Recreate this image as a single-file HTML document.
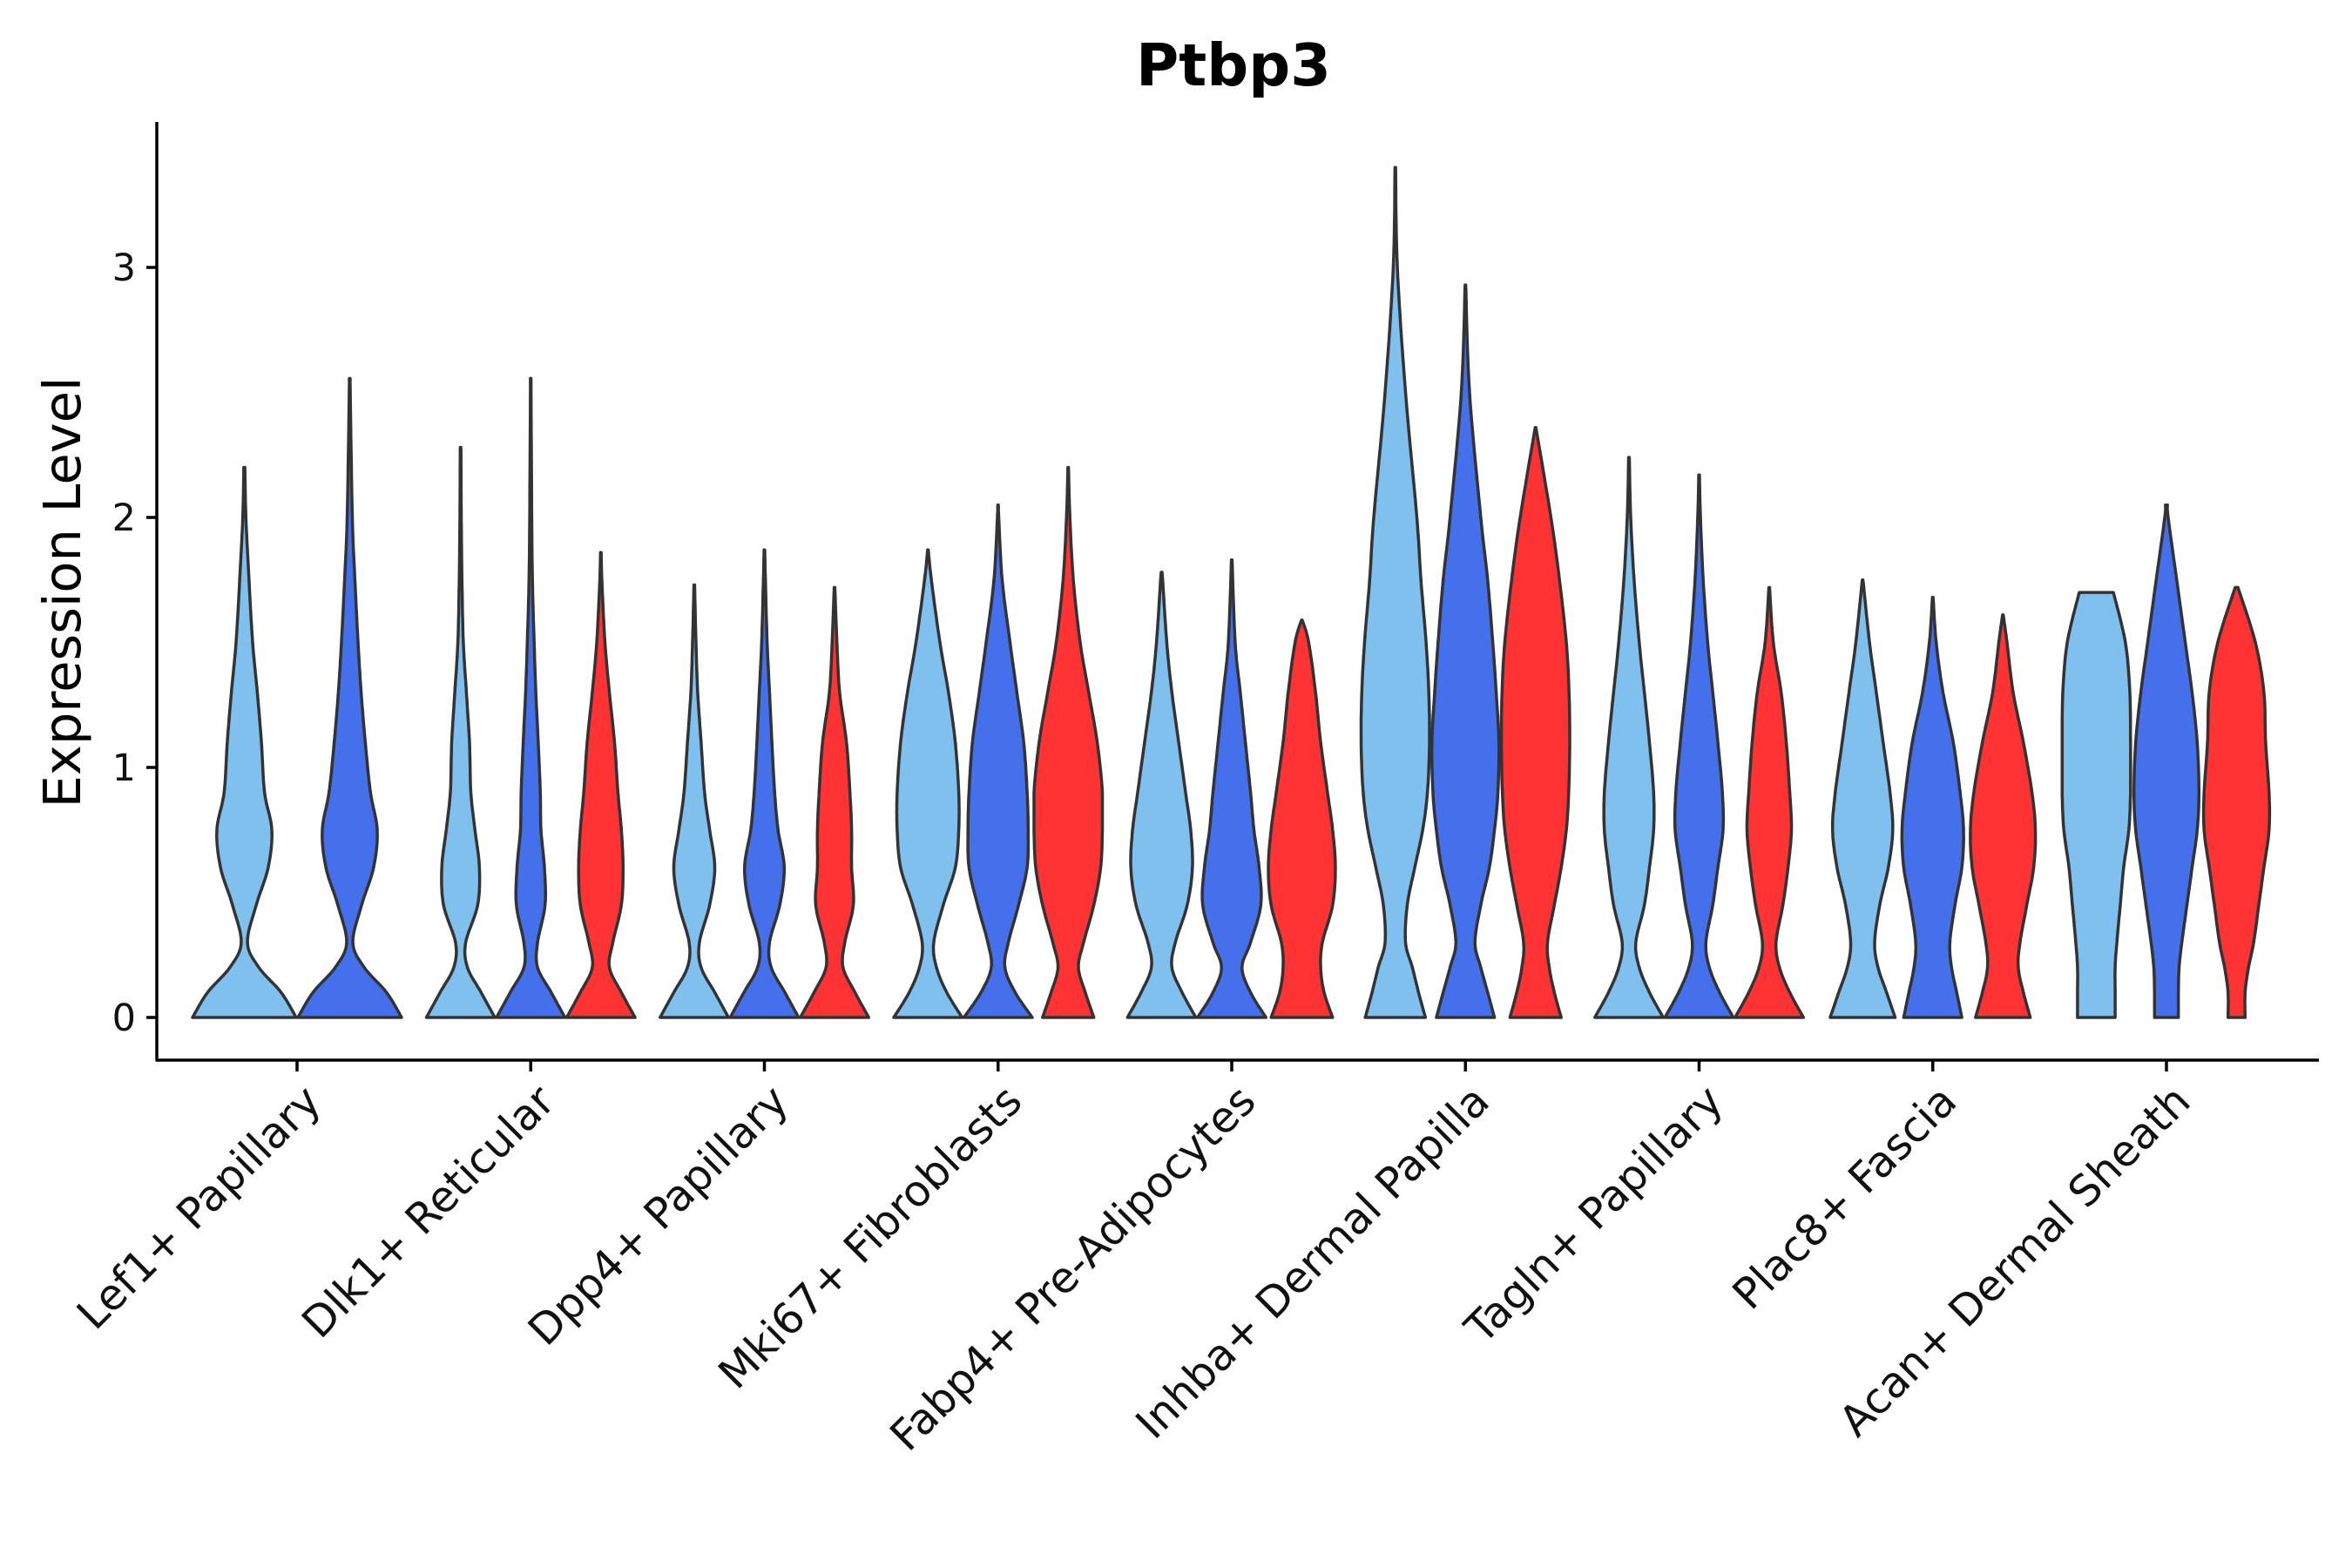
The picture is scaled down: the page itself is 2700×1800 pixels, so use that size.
<!DOCTYPE html>
<html><head><meta charset="utf-8">
<style>
html,body{margin:0;padding:0;background:#fff;}
svg{display:block;font-family:"DejaVu Sans","Liberation Sans",sans-serif;}
</style></head>
<body>
<svg id="chart" width="2700" height="1800" viewBox="0 0 2700 1800" xmlns="http://www.w3.org/2000/svg">
<rect width="2700" height="1800" fill="#fff"/>
<text x="1416" y="98" text-anchor="middle" font-size="67" font-weight="bold" fill="#000">Ptbp3</text>
<text transform="translate(92,680) rotate(-90)" text-anchor="middle" font-size="59" fill="#000">Expression Level</text>
<g id="plot"></g>
</svg>
<script>
const categories = ["Lef1+ Papillary","Dlk1+ Reticular","Dpp4+ Papillary","Mki67+ Fibroblasts","Fabp4+ Pre-Adipocytes","Inhba+ Dermal Papilla","Tagln+ Papillary","Plac8+ Fascia","Acan+ Dermal Sheath"];
const yTicks = [0,1,2,3];
const levels = [0,0.1,0.2,0.3,0.45,0.6,0.75,0.9,1.1,1.3,1.5,1.75,2.0,2.5,3.0];
const seriesColors = ["#7fc0ee","#4570ec","#ff3333"];
const violinGroup = [0,0, 1,1,1, 2,2,2, 3,3,3, 4,4,4, 5,5,5, 6,6,6, 7,7,7, 8,8,8];
const violinSeries = [0,1, 0,1,2, 0,1,2, 0,1,2, 0,1,2, 0,1,2, 0,1,2, 0,1,2, 0,1,2];
const violinMax = [2.2,2.55, 2.28,2.55,1.86, 1.73,1.87,1.72, 1.87,2.05,2.2, 1.78,1.83,1.59, 3.4,2.93,2.36, 2.24,2.17,1.72, 1.75,1.68,1.61, 1.7,2.05,1.72];
const violinTopW = [0.01,0.01, 0.01,0.01,0.01, 0.01,0.01,0.01, 0.01,0.01,0.01, 0.01,0.01,0.01, 0.01,0.01,0.01, 0.01,0.01,0.01, 0.01,0.01,0.01, 0.5,0.03,0.04];
const violinWidths = [
 [1,0.71,0.28,0.06,0.23,0.46,0.53,0.39,0.33,0.25,0.16,0.09,0.03],
 [1,0.71,0.28,0.06,0.23,0.46,0.53,0.4,0.3,0.22,0.16,0.1,0.05,0.01],
 [1,0.6,0.2,0.15,0.5,0.55,0.42,0.3,0.26,0.17,0.08,0.04,0.02],
 [1,0.6,0.2,0.2,0.42,0.4,0.3,0.28,0.22,0.15,0.1,0.05,0.03,0.01],
 [1,0.6,0.25,0.35,0.6,0.65,0.6,0.5,0.4,0.25,0.12,0.03],
 [1,0.6,0.2,0.15,0.45,0.6,0.45,0.3,0.2,0.1,0.05],
 [1,0.6,0.2,0.15,0.45,0.58,0.4,0.3,0.22,0.15,0.08,0.03],
 [1,0.6,0.25,0.3,0.55,0.5,0.5,0.45,0.35,0.15,0.07],
 [1,0.55,0.25,0.17,0.45,0.8,0.9,0.9,0.8,0.6,0.35,0.1],
 [1,0.5,0.2,0.3,0.6,0.85,0.88,0.85,0.75,0.55,0.35,0.12,0.02],
 [0.75,0.5,0.3,0.45,0.75,0.95,1,1,0.85,0.6,0.35,0.15,0.05],
 [1,0.6,0.3,0.4,0.75,0.9,0.85,0.7,0.5,0.3,0.15,0.03],
 [1,0.55,0.3,0.55,0.85,0.8,0.65,0.55,0.4,0.25,0.1],
 [0.9,0.65,0.55,0.6,0.9,0.98,0.9,0.75,0.55,0.4,0.2],
 [0.88,0.68,0.5,0.3,0.35,0.57,0.8,0.94,1,0.98,0.9,0.75,0.63,0.3,0.06],
 [0.85,0.65,0.45,0.28,0.45,0.7,0.85,0.95,0.98,0.9,0.8,0.65,0.45,0.12],
 [0.75,0.55,0.4,0.35,0.55,0.75,0.9,0.97,1,0.98,0.9,0.7,0.45],
 [1,0.6,0.3,0.2,0.45,0.6,0.72,0.72,0.6,0.45,0.3,0.15,0.05],
 [1,0.6,0.3,0.2,0.4,0.55,0.7,0.68,0.55,0.4,0.25,0.12,0.04],
 [1,0.6,0.3,0.2,0.4,0.55,0.65,0.6,0.5,0.35,0.12],
 [0.95,0.7,0.45,0.35,0.5,0.75,0.88,0.8,0.6,0.4,0.2,0.02],
 [0.85,0.7,0.55,0.5,0.65,0.85,0.9,0.8,0.6,0.3,0.1],
 [0.8,0.6,0.45,0.5,0.7,0.9,0.95,0.85,0.6,0.3,0.12],
 [0.55,0.55,0.55,0.6,0.7,0.8,0.95,1,1,0.98,0.85],
 [0.35,0.35,0.37,0.45,0.6,0.75,0.9,0.95,0.9,0.75,0.55,0.3,0.05],
 [0.25,0.25,0.35,0.5,0.65,0.8,0.95,0.95,0.85,0.8,0.55]
];

const NS="http://www.w3.org/2000/svg";
const plot=document.getElementById('plot');
const X0=180, X1=2662, Y0=1168, PX_PER_UNIT=287, AXIS_Y=1217;
const firstCenter=341, groupStep=268.25;
function yScale(v){return Y0 - v*PX_PER_UNIT;}
function xGroup(i){return firstCenter + i*groupStep;}
function groupCount(g){return violinGroup.filter(x=>x===g).length;}
function make(tag,attrs){const e=document.createElementNS(NS,tag);for(const k in attrs)e.setAttribute(k,attrs[k]);return e;}

for(let i=0;i<violinMax.length;i++){
  const g=violinGroup[i], s=violinSeries[i], n=groupCount(g);
  const idx=violinGroup.slice(0,i).filter(x=>x===g).length;
  const slot = n===2 ? 121 : 80.5;
  const cx = xGroup(g) + (idx-(n-1)/2)*slot;
  const half = slot/2 - 1;
  const pts=[];
  const w=violinWidths[i];
  for(let k=0;k<w.length;k++){ if(levels[k]<violinMax[i]) pts.push([levels[k],w[k]]); }
  pts.push([violinMax[i],violinTopW[i]]);
  const sm=[];
  for(let k=0;k<pts.length-1;k++){
    const p0=pts[Math.max(0,k-1)],p1=pts[k],p2=pts[k+1],p3=pts[Math.min(pts.length-1,k+2)];
    for(let t=0;t<1;t+=0.1){
      const t2=t*t,t3=t2*t;
      const f=(a,b,c,d)=>0.5*((2*b)+(-a+c)*t+(2*a-5*b+4*c-d)*t2+(-a+3*b-3*c+d)*t3);
      sm.push([f(p0[0],p1[0],p2[0],p3[0]), Math.max(0.005,Math.min(1,f(p0[1],p1[1],p2[1],p3[1])))]);
    }
  }
  sm.push(pts[pts.length-1]);
  let d='M'+(cx-sm[0][1]*half).toFixed(1)+','+yScale(sm[0][0]).toFixed(1);
  for(const p of sm) d+=' L'+(cx+p[1]*half).toFixed(1)+','+yScale(p[0]).toFixed(1);
  for(let k=sm.length-1;k>=0;k--) d+=' L'+(cx-sm[k][1]*half).toFixed(1)+','+yScale(sm[k][0]).toFixed(1);
  d+=' Z';
  const path=make('path',{d:d,fill:seriesColors[s],stroke:'#333',"stroke-width":3.5,"stroke-linejoin":"round"});
  
  
  plot.appendChild(path);
}

const yAxis=make('line',{x1:X0,y1:140,x2:X0,y2:AXIS_Y,stroke:'#000',"stroke-width":3.5});


plot.appendChild(yAxis);
const xAxis=make('line',{x1:X0-1.5,y1:AXIS_Y,x2:X1,y2:AXIS_Y,stroke:'#000',"stroke-width":3.5});


plot.appendChild(xAxis);

for(const t of yTicks){
  const y=yScale(t);
  const tk=make('line',{x1:X0-12,y1:y,x2:X0,y2:y,stroke:'#000',"stroke-width":3.5});
  
  
  plot.appendChild(tk);
  const lb=make('text',{x:X0-24,y:y+15,"text-anchor":"end","font-size":43,fill:'#111'});
  lb.textContent=t;
  
  
  plot.appendChild(lb);
}
categories.forEach((c,g)=>{
  const x=xGroup(g);
  const tk=make('line',{x1:x,y1:AXIS_Y,x2:x,y2:AXIS_Y+13,stroke:'#000',"stroke-width":3.5});
  
  
  plot.appendChild(tk);
  const lb=make('text',{transform:`translate(${x+30},${AXIS_Y+50}) rotate(-45)`,"text-anchor":"end","font-size":49,fill:'#111'});
  lb.textContent=c;
  
  
  plot.appendChild(lb);
});
</script>
</body></html>
